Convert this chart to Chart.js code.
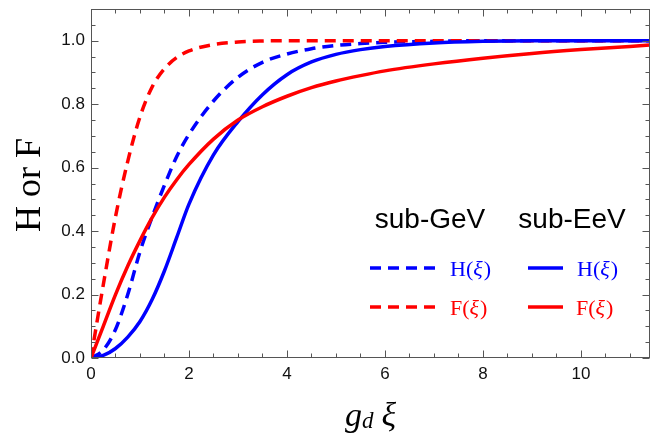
<!DOCTYPE html>
<html>
<head>
<meta charset="utf-8">
<script src="https://cdn.jsdelivr.net/npm/chart.js@4"></script>
<style>
  html, body { margin: 0; padding: 0; background: #fff; }
  #wrap { width: 651px; height: 441px; }
</style>
</head>
<body>
<div id="wrap"><canvas id="chart" width="651" height="441"></canvas></div>
<script>
// sample points along g_d xi
var xs = [0, 0.25, 0.5, 0.75, 1, 1.25, 1.5, 1.75, 2, 2.5, 3, 3.5, 4, 4.5, 5, 5.5, 6, 7, 8, 9, 10, 11, 11.5];

// sub-GeV (dashed)
var hSubGeV = [0, 0.025, 0.09, 0.2, 0.335, 0.445, 0.545, 0.635, 0.705, 0.81, 0.885, 0.932, 0.958, 0.975, 0.985, 0.991, 0.995, 0.998, 1, 1, 1, 1, 1];
var fSubGeV = [0, 0.23, 0.445, 0.62, 0.76, 0.855, 0.912, 0.947, 0.968, 0.988, 0.996, 0.999, 1, 1, 1, 1, 1, 1, 1, 1, 1, 1, 1];

// sub-EeV (solid)
var hSubEeV = [0, 0.008, 0.03, 0.066, 0.115, 0.185, 0.275, 0.38, 0.485, 0.64, 0.745, 0.83, 0.893, 0.933, 0.957, 0.972, 0.982, 0.993, 0.998, 1, 1, 1, 1];
var fSubEeV = [0, 0.1, 0.2, 0.29, 0.37, 0.443, 0.507, 0.562, 0.61, 0.69, 0.75, 0.792, 0.825, 0.852, 0.873, 0.89, 0.905, 0.927, 0.945, 0.96, 0.972, 0.982, 0.988];

var xTicks = [0, 2, 4, 6, 8, 10];
var yTicks = [0, 0.2, 0.4, 0.6, 0.8, 1.0];
var xMinorStep = 0.5;
var yMinorStep = 0.05;

var BLUE = "#0000ff";
var RED = "#ff0000";
var FRAME = "#555555";

function pts(ys) {
  return xs.map(function (x, i) { return { x: x, y: ys[i] }; });
}

function curve(label, ys, color, dashed, order) {
  return {
    label: label,
    data: pts(ys),
    borderColor: color,
    borderWidth: 3.5,
    borderDash: dashed ? [11, 7] : [],
    pointRadius: 0,
    cubicInterpolationMode: "monotone",
    fill: false,
    order: order
  };
}

// frame with inward ticks on all four sides + axis titles + legend
var decor = {
  id: "decor",
  afterDraw: function (chart) {
    var ctx = chart.ctx;
    var a = chart.chartArea;
    var sx = chart.scales.x, sy = chart.scales.y;
    var L = Math.round(a.left) + 0.5, R = Math.round(a.right) - 0.5;
    var T = Math.round(a.top) + 0.5, B = Math.round(a.bottom) - 0.5;

    ctx.save();
    ctx.strokeStyle = FRAME;
    ctx.lineWidth = 1;
    ctx.strokeRect(L, T, R - L, B - T);

    ctx.beginPath();
    var i, v, p, len;
    for (i = 0; i * xMinorStep <= sx.max + 1e-9; i++) {
      v = i * xMinorStep;
      p = Math.round(sx.getPixelForValue(v)) + 0.5;
      len = (i % 4 === 0) ? 7 : 4;
      ctx.moveTo(p, B); ctx.lineTo(p, B - len);
      ctx.moveTo(p, T); ctx.lineTo(p, T + len);
    }
    for (i = 0; i * yMinorStep <= sy.max + 1e-9; i++) {
      v = i * yMinorStep;
      p = Math.round(sy.getPixelForValue(v)) + 0.5;
      len = (i % 4 === 0) ? 7 : 4;
      ctx.moveTo(L, p); ctx.lineTo(L + len, p);
      ctx.moveTo(R, p); ctx.lineTo(R - len, p);
    }
    ctx.stroke();

    // y title
    ctx.fillStyle = "#000";
    ctx.save();
    ctx.translate(40, 185);
    ctx.rotate(-Math.PI / 2);
    ctx.font = "36px 'Liberation Serif'";
    ctx.textAlign = "center";
    ctx.textBaseline = "alphabetic";
    ctx.fillText("H or F", 0, 0);
    ctx.restore();

    // x title: g_d xi
    var cx = (a.left + a.right) / 2;
    var base = 426;
    ctx.textBaseline = "alphabetic";
    ctx.textAlign = "left";
    var big = "italic 34px 'Liberation Serif'";
    var sub = "italic 23px 'Liberation Serif'";
    ctx.font = big; var wg = ctx.measureText("g").width;
    ctx.font = sub; var wd = ctx.measureText("d").width;
    ctx.font = big; var wsp = 8, wx = ctx.measureText("\u03be").width;
    var x0 = cx - (wg + wd + wsp + wx) / 2;
    ctx.font = big; ctx.fillText("g", x0, base);
    ctx.font = sub; ctx.fillText("d", x0 + wg, base + 2);
    ctx.font = big; ctx.fillText("\u03be", x0 + wg + wd + wsp, base);

    // legend
    ctx.font = "28px 'Liberation Sans'";
    ctx.textAlign = "center";
    ctx.fillText("sub-GeV", 430, 228);
    ctx.fillText("sub-EeV", 572, 228);

    function sample(x1, x2, y, color, dashed) {
      ctx.beginPath();
      ctx.strokeStyle = color;
      ctx.lineWidth = 3.5;
      ctx.setLineDash(dashed ? [11, 7] : []);
      ctx.moveTo(x1, y); ctx.lineTo(x2, y);
      ctx.stroke();
      ctx.setLineDash([]);
    }
    function fnLabel(letter, x, y, color) {
      ctx.fillStyle = color;
      ctx.textAlign = "left";
      ctx.textBaseline = "alphabetic";
      var f = "22px 'Liberation Serif'", fi = "italic 22px 'Liberation Serif'";
      ctx.font = f; ctx.fillText(letter + "(", x, y);
      var w1 = ctx.measureText(letter + "(").width;
      ctx.font = fi; ctx.fillText("\u03be", x + w1, y);
      var w2 = ctx.measureText("\u03be").width;
      ctx.font = f; ctx.fillText(")", x + w1 + w2 + 1, y);
    }
    sample(370, 440, 268, BLUE, true);
    sample(528, 563, 268, BLUE, false);
    sample(370, 440, 307, RED, true);
    sample(528, 563, 307, RED, false);
    fnLabel("H", 450, 276, BLUE);
    fnLabel("H", 577, 276, BLUE);
    fnLabel("F", 450, 315, RED);
    fnLabel("F", 576, 315, RED);
    ctx.restore();
  }
};

new Chart(document.getElementById("chart"), {
  type: "line",
  data: {
    datasets: [
      curve("H sub-GeV", hSubGeV, BLUE, true, 4),
      curve("F sub-GeV", fSubGeV, RED, true, 3),
      curve("H sub-EeV", hSubEeV, BLUE, false, 2),
      curve("F sub-EeV", fSubEeV, RED, false, 1)
    ]
  },
  options: {
    responsive: false,
    animation: false,
    layout: { padding: { top: 9, right: 1, left: 0, bottom: 0 } },
    plugins: {
      legend: { display: false },
      tooltip: { enabled: false }
    },
    scales: {
      x: {
        type: "linear",
        min: 0,
        max: 11.41,
        grid: { display: false, drawTicks: false },
        border: { display: false },
        afterBuildTicks: function (s) { s.ticks = xTicks.map(function (v) { return { value: v }; }); },
        afterFit: function (s) {
          s.height = 83;
          s.paddingLeft = 0; s.paddingRight = 0;
        },
        ticks: {
          padding: 6,
          color: "#111",
          font: { family: "'Liberation Sans'", size: 17 },
          maxRotation: 0,
          callback: function (v) { return String(v); }
        }
      },
      y: {
        type: "linear",
        min: 0,
        max: 1.1,
        grid: { display: false, drawTicks: false },
        border: { display: false },
        afterBuildTicks: function (s) { s.ticks = yTicks.map(function (v) { return { value: v }; }); },
        afterFit: function (s) {
          s.width = 91;
          s.paddingTop = 0; s.paddingBottom = 0;
        },
        ticks: {
          padding: 6,
          color: "#111",
          font: { family: "'Liberation Sans'", size: 17 },
          callback: function (v) { return Number(v).toFixed(1); }
        }
      }
    }
  },
  plugins: [decor]
});
</script>
</body>
</html>
